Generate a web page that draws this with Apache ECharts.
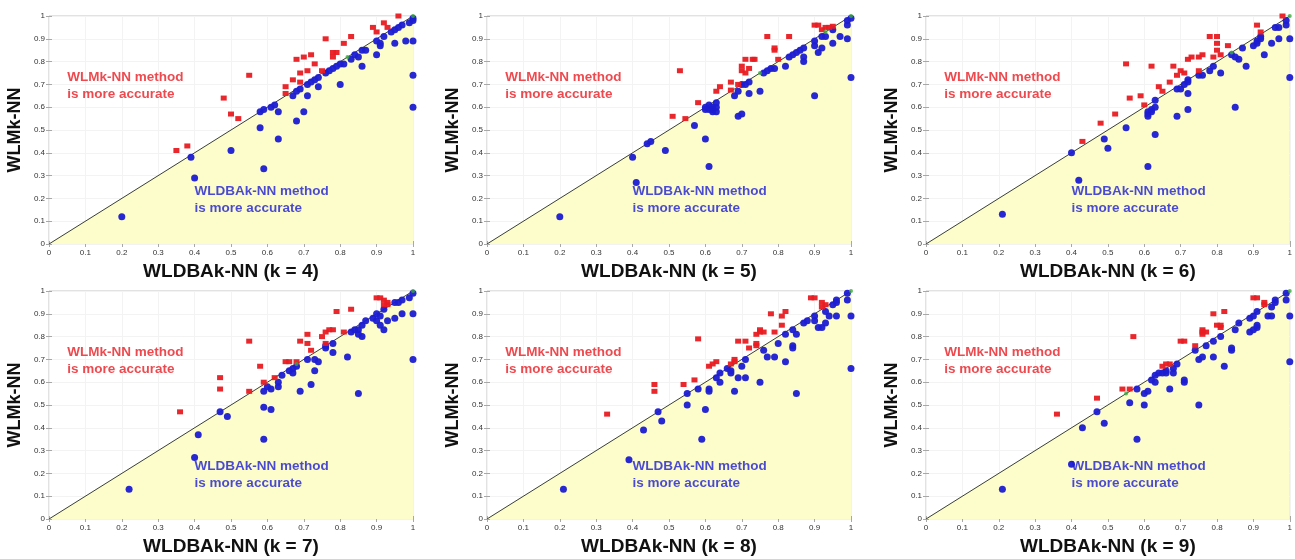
<!DOCTYPE html>
<html lang="en">

<head>
    <meta charset="UTF-8">
    <title>WLMk-NN vs WLDBAk-NN</title>
    <script src="https://cdn.jsdelivr.net/npm/echarts@6/dist/echarts.min.js"></script>
    <style>
        body { margin: 0; background: #fff; }
    </style>
</head>

<body>
    <div id="main" style="width: 1295px;height:559px;"></div>
    <script type="text/javascript">
        // k values, one panel each
        var kValues = [4, 5, 6, 7, 8, 9];

        // [WLDBAk-NN, WLMk-NN] accuracy pairs
        var red4 = [[0.35,0.41],[0.38,0.43],[0.48,0.64],[0.50,0.57],[0.52,0.55],[0.55,0.74],[0.65,0.69],[0.65,0.66],[0.67,0.72],[0.68,0.81],[0.69,0.75],[0.69,0.71],[0.70,0.82],[0.71,0.76],[0.72,0.83],[0.73,0.79],[0.76,0.90],[0.75,0.76],[0.78,0.84],[0.78,0.82],[0.79,0.84],[0.81,0.88],[0.83,0.91],[0.89,0.95],[0.90,0.93],[0.92,0.97],[0.93,0.95],[0.96,1.00]];
        var blue4 = [[0.20,0.12],[0.39,0.38],[0.40,0.29],[0.50,0.41],[0.58,0.51],[0.59,0.33],[0.58,0.58],[0.59,0.59],[0.61,0.60],[0.62,0.61],[0.63,0.58],[0.63,0.46],[0.67,0.65],[0.68,0.54],[0.68,0.67],[0.69,0.68],[0.70,0.58],[0.71,0.65],[0.71,0.70],[0.72,0.71],[0.73,0.72],[0.74,0.69],[0.74,0.73],[0.76,0.75],[0.77,0.76],[0.78,0.77],[0.79,0.78],[0.80,0.70],[0.80,0.79],[0.81,0.79],[0.83,0.81],[0.84,0.83],[0.85,0.82],[0.86,0.85],[0.86,0.78],[0.87,0.85],[0.90,0.83],[0.90,0.89],[0.91,0.87],[0.91,0.88],[0.92,0.91],[0.94,0.93],[0.95,0.88],[0.95,0.94],[0.96,0.95],[0.97,0.96],[0.98,0.89],[1.00,0.89],[1.00,0.74],[1.00,0.60],[0.99,0.97],[1.00,0.98],[1.00,0.99]];
        var green4 = [[0.82,0.82],[1,1]];

        var red5 = [[0.51,0.56],[0.53,0.76],[0.545,0.55],[0.58,0.62],[0.63,0.67],[0.64,0.69],[0.67,0.71],[0.67,0.675],[0.69,0.70],[0.70,0.78],[0.70,0.76],[0.71,0.81],[0.71,0.75],[0.72,0.77],[0.73,0.81],[0.735,0.81],[0.77,0.91],[0.79,0.86],[0.79,0.85],[0.80,0.81],[0.83,0.91],[0.90,0.96],[0.91,0.96],[0.92,0.94],[0.93,0.95],[0.94,0.95],[0.95,0.955]];
        var blue5 = [[0.20,0.12],[0.40,0.38],[0.41,0.27],[0.44,0.44],[0.45,0.45],[0.49,0.41],[0.57,0.52],[0.60,0.46],[0.61,0.34],[0.60,0.60],[0.61,0.59],[0.61,0.61],[0.62,0.58],[0.62,0.59],[0.62,0.60],[0.63,0.58],[0.63,0.60],[0.63,0.62],[0.60,0.59],[0.68,0.65],[0.69,0.67],[0.69,0.56],[0.70,0.57],[0.70,0.70],[0.71,0.70],[0.72,0.71],[0.72,0.66],[0.75,0.67],[0.76,0.75],[0.77,0.76],[0.78,0.77],[0.79,0.77],[0.82,0.78],[0.83,0.82],[0.84,0.83],[0.85,0.84],[0.86,0.85],[0.87,0.80],[0.87,0.82],[0.87,0.86],[0.90,0.65],[0.90,0.87],[0.90,0.89],[0.91,0.84],[0.92,0.86],[0.92,0.91],[0.93,0.91],[0.95,0.88],[0.95,0.94],[0.97,0.91],[0.99,0.96],[0.99,0.98],[1.00,0.99],[0.99,0.90],[1.00,0.73]];
        var green5 = [[0.75,0.75],[0.93,0.93],[1,1]];

        var red6 = [[0.43,0.45],[0.48,0.53],[0.52,0.57],[0.55,0.79],[0.56,0.64],[0.59,0.65],[0.60,0.61],[0.62,0.78],[0.64,0.69],[0.65,0.67],[0.67,0.71],[0.68,0.78],[0.69,0.74],[0.70,0.76],[0.71,0.75],[0.72,0.81],[0.73,0.82],[0.75,0.82],[0.76,0.83],[0.75,0.76],[0.78,0.91],[0.79,0.82],[0.80,0.91],[0.80,0.85],[0.80,0.88],[0.81,0.83],[0.83,0.87],[0.91,0.96],[0.92,0.93],[0.98,1.00]];
        var blue6 = [[0.21,0.13],[0.40,0.40],[0.42,0.28],[0.49,0.46],[0.50,0.42],[0.55,0.51],[0.61,0.57],[0.61,0.58],[0.62,0.58],[0.62,0.59],[0.61,0.56],[0.61,0.34],[0.63,0.48],[0.63,0.60],[0.63,0.63],[0.69,0.56],[0.69,0.68],[0.70,0.68],[0.71,0.70],[0.72,0.71],[0.72,0.72],[0.72,0.66],[0.72,0.59],[0.75,0.74],[0.76,0.74],[0.78,0.76],[0.79,0.78],[0.81,0.75],[0.84,0.83],[0.85,0.82],[0.86,0.81],[0.85,0.60],[0.87,0.86],[0.88,0.78],[0.90,0.87],[0.91,0.88],[0.91,0.89],[0.92,0.91],[0.92,0.90],[0.93,0.83],[0.95,0.88],[0.96,0.95],[0.97,0.95],[0.97,0.90],[0.99,0.96],[0.99,0.98],[1.00,0.90],[1.00,0.73]];
        var green6 = [[0.84,0.84],[1,1]];

        var red7 = [[0.36,0.47],[0.47,0.62],[0.47,0.57],[0.55,0.56],[0.55,0.78],[0.58,0.67],[0.59,0.60],[0.62,0.62],[0.65,0.69],[0.66,0.69],[0.68,0.69],[0.69,0.78],[0.71,0.81],[0.71,0.77],[0.72,0.74],[0.75,0.80],[0.76,0.82],[0.77,0.83],[0.78,0.83],[0.76,0.77],[0.79,0.91],[0.81,0.82],[0.83,0.92],[0.90,0.97],[0.91,0.97],[0.92,0.96],[0.93,0.95],[0.93,0.94],[0.92,0.94]];
        var blue7 = [[0.22,0.13],[0.40,0.27],[0.41,0.37],[0.47,0.47],[0.49,0.45],[0.59,0.35],[0.59,0.49],[0.59,0.56],[0.60,0.58],[0.61,0.48],[0.61,0.57],[0.63,0.58],[0.63,0.60],[0.64,0.63],[0.66,0.65],[0.67,0.64],[0.67,0.66],[0.68,0.67],[0.69,0.56],[0.71,0.70],[0.72,0.59],[0.73,0.70],[0.74,0.69],[0.73,0.65],[0.76,0.76],[0.76,0.75],[0.78,0.73],[0.78,0.77],[0.82,0.71],[0.83,0.82],[0.84,0.83],[0.85,0.83],[0.85,0.81],[0.86,0.80],[0.86,0.85],[0.87,0.87],[0.85,0.55],[0.89,0.88],[0.90,0.87],[0.90,0.90],[0.91,0.85],[0.91,0.89],[0.92,0.83],[0.92,0.92],[0.93,0.87],[0.95,0.88],[0.95,0.95],[0.96,0.95],[0.97,0.96],[0.97,0.90],[0.99,0.97],[1.00,0.99],[1.00,0.90],[1.00,0.70]];
        var green7 = [[0.68,0.68],[1,1]];

        var red8 = [[0.33,0.46],[0.46,0.56],[0.46,0.59],[0.54,0.59],[0.57,0.61],[0.58,0.79],[0.61,0.67],[0.62,0.68],[0.63,0.69],[0.67,0.68],[0.68,0.70],[0.68,0.69],[0.69,0.78],[0.71,0.78],[0.72,0.75],[0.74,0.76],[0.74,0.77],[0.74,0.81],[0.75,0.82],[0.76,0.82],[0.75,0.83],[0.78,0.90],[0.79,0.82],[0.81,0.89],[0.81,0.85],[0.82,0.91],[0.89,0.97],[0.90,0.97],[0.92,0.93],[0.93,0.94],[0.92,0.95]];
        var blue8 = [[0.21,0.13],[0.39,0.26],[0.43,0.39],[0.47,0.47],[0.48,0.43],[0.55,0.55],[0.55,0.50],[0.58,0.57],[0.59,0.35],[0.60,0.48],[0.61,0.57],[0.61,0.56],[0.63,0.62],[0.64,0.60],[0.64,0.64],[0.66,0.66],[0.67,0.65],[0.67,0.64],[0.68,0.56],[0.69,0.62],[0.70,0.67],[0.71,0.70],[0.71,0.62],[0.75,0.60],[0.76,0.74],[0.77,0.71],[0.79,0.71],[0.80,0.77],[0.82,0.81],[0.82,0.69],[0.84,0.83],[0.84,0.76],[0.84,0.75],[0.85,0.81],[0.85,0.55],[0.87,0.86],[0.88,0.87],[0.90,0.89],[0.90,0.87],[0.91,0.84],[0.92,0.84],[0.93,0.86],[0.93,0.91],[0.94,0.89],[0.96,0.89],[0.95,0.94],[0.96,0.95],[0.96,0.96],[0.99,0.96],[0.99,0.99],[1.00,0.89],[1.00,0.66]];
        var green8 = [[1,1]];

        var red9 = [[0.36,0.46],[0.47,0.53],[0.54,0.57],[0.56,0.57],[0.57,0.80],[0.65,0.67],[0.66,0.68],[0.67,0.68],[0.70,0.78],[0.71,0.78],[0.74,0.76],[0.76,0.82],[0.77,0.82],[0.76,0.81],[0.76,0.83],[0.79,0.90],[0.80,0.85],[0.81,0.84],[0.81,0.85],[0.82,0.91],[0.90,0.97],[0.91,0.97],[0.93,0.94],[0.93,0.95]];
        var blue9 = [[0.21,0.13],[0.40,0.24],[0.43,0.40],[0.47,0.47],[0.49,0.42],[0.56,0.51],[0.58,0.35],[0.58,0.57],[0.60,0.50],[0.60,0.55],[0.61,0.56],[0.62,0.61],[0.63,0.60],[0.63,0.63],[0.64,0.64],[0.65,0.64],[0.66,0.65],[0.66,0.64],[0.67,0.57],[0.68,0.66],[0.68,0.64],[0.69,0.68],[0.71,0.60],[0.71,0.61],[0.74,0.74],[0.75,0.50],[0.75,0.70],[0.76,0.71],[0.77,0.76],[0.79,0.78],[0.79,0.71],[0.81,0.80],[0.82,0.67],[0.84,0.74],[0.84,0.75],[0.85,0.83],[0.86,0.86],[0.89,0.82],[0.90,0.83],[0.91,0.84],[0.91,0.85],[0.89,0.88],[0.90,0.89],[0.91,0.91],[0.94,0.89],[0.95,0.89],[0.95,0.93],[0.96,0.95],[0.96,0.96],[0.99,0.96],[0.99,0.99],[1.00,0.89],[1.00,0.69]];
        var green9 = [[0.55,0.55],[1,1]];

        // equal-accuracy line
        var diagonal = [[0, 0], [1, 1]];

        var redSets = [red4, red5, red6, red7, red8, red9];
        var blueSets = [blue4, blue5, blue6, blue7, blue8, blue9];
        var greenSets = [green4, green5, green6, green7, green8, green9];

        var FONT = 'Liberation Sans, Arial, sans-serif';
        var RED = '#e81c22';
        var BLUE = '#1c1cd2';
        var lefts = [49, 487, 926];
        var tops = [16, 291];

        var grids = [], xAxes = [], yAxes = [], series = [];

        kValues.forEach(function (k, i) {
            var col = i % 3, row = Math.floor(i / 3);
            grids.push({
                left: lefts[col], top: tops[row], width: 364, height: 228,
                show: true, borderColor: '#c4c4c4', borderWidth: 1
            });

            var tick = { show: true, inside: true, length: 3, lineStyle: { color: '#a8a8a8' } };
            var split = { show: true, lineStyle: { color: '#f3f3f3', width: 1 } };

            xAxes.push({
                gridIndex: i, type: 'value', min: 0, max: 1, interval: 0.1,
                name: 'WLDBAk-NN (k = ' + k + ')', nameLocation: 'middle', nameGap: 18,
                nameTextStyle: { fontFamily: FONT, fontSize: 19, fontWeight: 'bold', color: '#111' },
                axisLine: { show: false }, axisTick: tick, splitLine: split,
                axisLabel: { fontFamily: FONT, fontSize: 8, color: '#333', margin: 5 }
            });
            // top ticks (box)
            xAxes.push({
                gridIndex: i, type: 'value', min: 0, max: 1, interval: 0.1, position: 'top',
                axisLine: { show: false }, axisTick: tick, splitLine: { show: false },
                axisLabel: { show: false }
            });
            yAxes.push({
                gridIndex: i, type: 'value', min: 0, max: 1, interval: 0.1,
                name: 'WLMk-NN', nameLocation: 'middle', nameGap: 25,
                nameTextStyle: { fontFamily: FONT, fontSize: 18, fontWeight: 'bold', color: '#111' },
                axisLine: { show: false }, axisTick: tick, splitLine: split,
                axisLabel: { fontFamily: FONT, fontSize: 8, color: '#333', margin: 4 }
            });
            yAxes.push({
                gridIndex: i, type: 'value', min: 0, max: 1, interval: 0.1, position: 'right',
                axisLine: { show: false }, axisTick: tick, splitLine: { show: false },
                axisLabel: { show: false }
            });

            var xi = i * 2, yi = i * 2;

            series.push({
                type: 'line', xAxisIndex: xi, yAxisIndex: yi, data: diagonal,
                symbol: 'none', silent: true, z: 1,
                lineStyle: { color: '#3a3f33', width: 1 },
                areaStyle: { color: '#fdfdcb', opacity: 1 }
            });
            series.push({
                type: 'scatter', xAxisIndex: xi, yAxisIndex: yi, data: blueSets[i],
                symbol: 'circle', symbolSize: 7, z: 3,
                itemStyle: { color: BLUE, opacity: 0.95 }
            });
            series.push({
                type: 'scatter', xAxisIndex: xi, yAxisIndex: yi, data: redSets[i],
                symbol: 'rect', symbolSize: [6, 5], z: 4,
                itemStyle: { color: RED, opacity: 0.95 }
            });
            series.push({
                type: 'scatter', xAxisIndex: xi, yAxisIndex: yi, data: greenSets[i],
                symbol: 'circle', symbolSize: 4, z: 5,
                itemStyle: { color: '#3caa3c' }
            });
            // region notes
            series.push({
                type: 'scatter', xAxisIndex: xi, yAxisIndex: yi, data: [[0.05, 0.692]],
                symbolSize: 0, silent: true, z: 6,
                label: {
                    show: true, position: 'right', distance: 0,
                    formatter: 'WLMk-NN method\nis more accurate',
                    fontFamily: FONT, fontSize: 13.5, fontWeight: 'bold', color: RED, lineHeight: 17
                }
            });
            series.push({
                type: 'scatter', xAxisIndex: xi, yAxisIndex: yi, data: [[0.40, 0.193]],
                symbolSize: 0, silent: true, z: 6,
                label: {
                    show: true, position: 'right', distance: 0,
                    formatter: 'WLDBAk-NN method\nis more accurate',
                    fontFamily: FONT, fontSize: 13.5, fontWeight: 'bold', color: BLUE, lineHeight: 17
                }
            });
        });

        var myChart = echarts.init(document.getElementById('main'));
        myChart.setOption({
            animation: false,
            grid: grids,
            xAxis: xAxes,
            yAxis: yAxes,
            series: series
        });
    </script>
</body>

</html>
